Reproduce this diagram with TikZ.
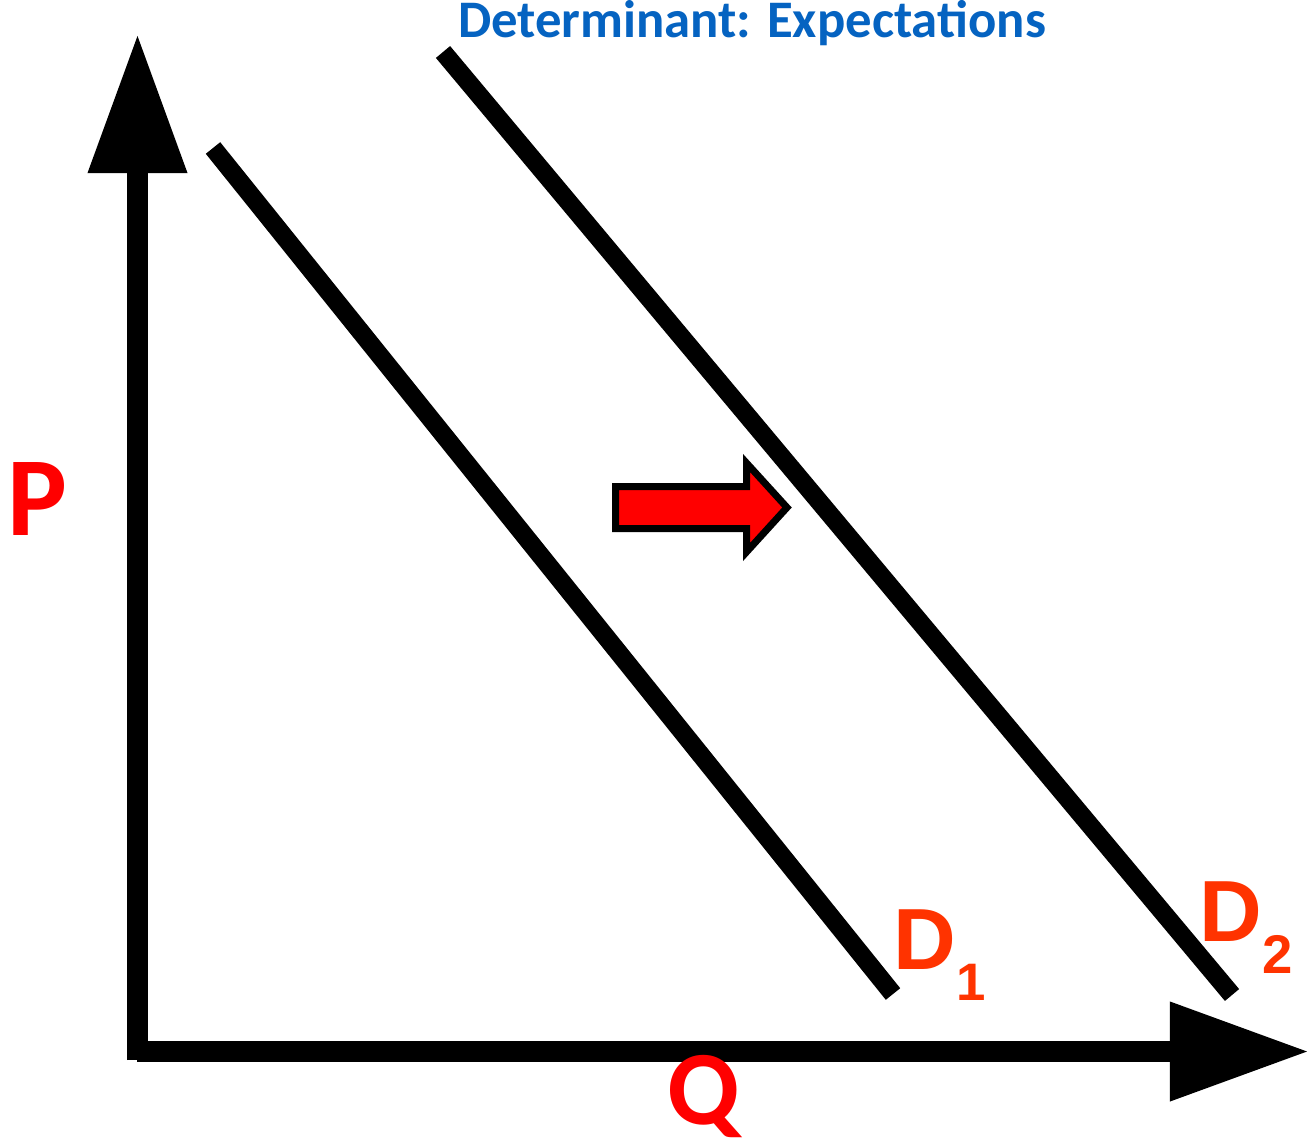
\documentclass[tikz,border=0pt]{standalone}
\usepackage{fontspec}
\usepackage{tikz}
\usetikzlibrary{arrows.meta}
\newfontfamily\calibrifont{Carlito}
\newfontfamily\arialfont{Liberation Sans}
\definecolor{axisred}{HTML}{FF0000}
\definecolor{labelred}{HTML}{FF3300}
\definecolor{titleblue}{HTML}{0563C1}

\begin{document}
\begin{tikzpicture}[
  x=0.01cm, y=-0.01cm,
  axis/.style     = {line width=0.21cm, -{Triangle[length=1.37cm, width=1.0cm, line width=0pt]}},
  demand/.style   = {line width=0.185cm},
  shiftarrow/.style = {draw=black, fill=axisred, line width=0.07cm, miter limit=10},
  axislabel/.style  = {text=axisred, font=\calibrifont\bfseries\fontsize{32pt}{32pt}\selectfont, inner sep=0pt, anchor=base},
  curvelabel/.style = {text=labelred, font=\arialfont\bfseries\fontsize{24.7pt}{24.7pt}\selectfont, inner sep=0pt, anchor=base west},
  title/.style      = {text=titleblue, font=\calibrifont\bfseries\fontsize{15pt}{15pt}\selectfont, inner sep=0pt, anchor=base},
]
\useasboundingbox (0,0) rectangle (1307,1143);

%% ---------------------------------------------------------------- axes
\coordinate (corner) at (137.5,1060);
\coordinate (ptop)   at (137.5,36);
\coordinate (qstart) at (137,1051.5);
\coordinate (qend)   at (1307,1051.5);
\draw[axis] (corner) -- (ptop);
\draw[axis] (qstart) -- (qend);

\node[axislabel] (plabel) at (37,535)  {P};
\node[axislabel, font=\calibrifont\bfseries\fontsize{30pt}{30pt}\selectfont] (qlabel) at (704,1124) {Q};

%% ---------------------------------------------------------------- demand curves
\coordinate (d1top) at (213,148);
\coordinate (d1bot) at (893,994);
\coordinate (d2top) at (443,52);
\coordinate (d2bot) at (1232,995);
\draw[demand] (d1top) -- (d1bot);
\draw[demand] (d2top) -- (d2bot);

\node[curvelabel] (d1label) at (893,969)
  {D\raisebox{-0.31cm}{\fontsize{15pt}{15pt}\selectfont 1}};
\node[curvelabel] (d2label) at (1199,941)
  {D\raisebox{-0.32cm}{\fontsize{15.5pt}{15.5pt}\selectfont 2}};

%% ---------------------------------------------------------------- shift
\draw[shiftarrow] (615.5,486.5) -- (746.5,486.5) -- (746.5,463) -- (787,507.5)
  -- (746.5,552) -- (746.5,528.5) -- (615.5,528.5) -- cycle;

\node[title] (heading) at (752,37.5) {Determinant: Expectations};
\end{tikzpicture}
\end{document}
